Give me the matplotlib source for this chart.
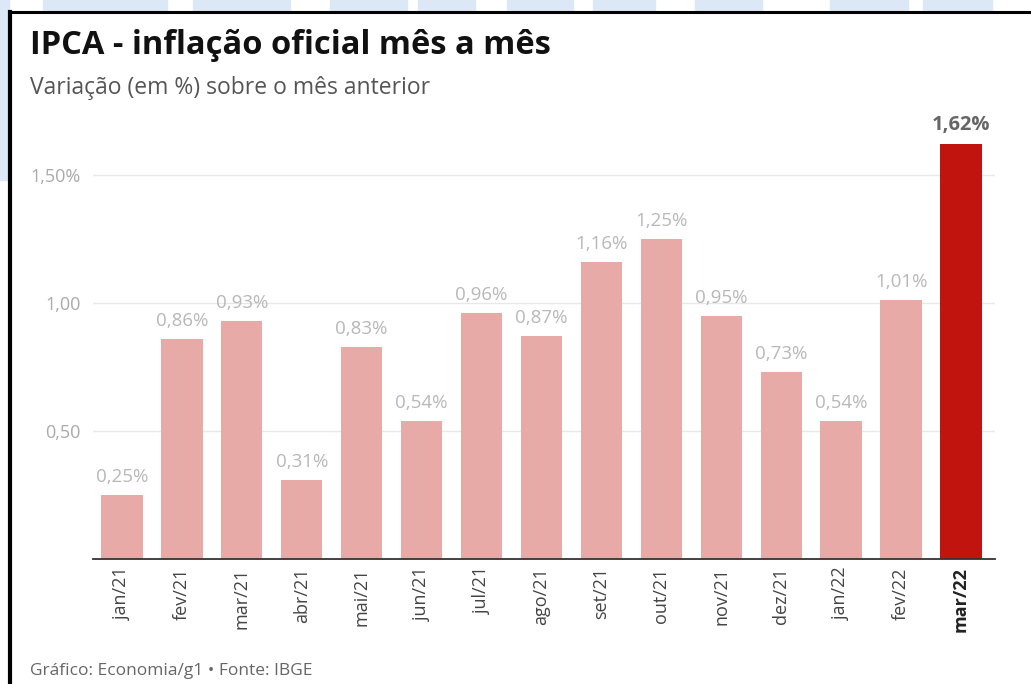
import matplotlib
matplotlib.use("Agg")
import matplotlib.pyplot as plt
from matplotlib.patches import Rectangle

meses = ["jan/21", "fev/21", "mar/21", "abr/21", "mai/21", "jun/21", "jul/21", "ago/21",
         "set/21", "out/21", "nov/21", "dez/21", "jan/22", "fev/22", "mar/22"]
ipca = [0.25, 0.86, 0.93, 0.31, 0.83, 0.54, 0.96, 0.87, 1.16, 1.25, 0.95, 0.73, 0.54, 1.01, 1.62]
yticks = [0.5, 1.0, 1.5]
ytick_labels = ["0,50", "1,00", "1,50%"]

W, H = 1031, 684
fig = plt.figure(figsize=(W / 100, H / 100), dpi=100)
fig.patch.set_facecolor("white")

# light blue watermark shapes behind the frame
azul = "#dce8f6"
for x0, x1 in [(43, 167), (193, 290), (330, 407), (418, 475), (507, 573),
               (593, 655), (695, 762), (830, 908), (923, 992)]:
    fig.patches.append(Rectangle((x0 / W, 1 - 12 / H), (x1 - x0) / W, 12 / H,
                                 transform=fig.transFigure, color=azul, zorder=0))
fig.patches.append(Rectangle((0, 1 - 180 / H), 9 / W, 180 / H,
                             transform=fig.transFigure, color=azul, zorder=0))

# black frame (top and left)
fig.add_artist(plt.Line2D([10 / W, 1], [1 - 12 / H, 1 - 12 / H], transform=fig.transFigure,
                          color="black", lw=2.2))
fig.add_artist(plt.Line2D([10 / W, 10 / W], [0, 1 - 12 / H], transform=fig.transFigure,
                          color="black", lw=3))

ax = fig.add_axes([93 / W, 1 - 559 / H, (995 - 93) / W, (559 - 119) / H])
x = list(range(len(meses)))
cores = ["#e8aaa7"] * (len(meses) - 1) + ["#c2140f"]
ax.bar(x, ipca, width=0.69, color=cores, zorder=2)

ax.set_ylim(0, (559 - 119) / 256)
ax.set_xlim(-0.483, 14.567)
ax.set_yticks(yticks)
ax.set_yticklabels(ytick_labels, color="#aaaaaa", fontsize=13, family="Open Sans")
ax.tick_params(axis="y", length=0, pad=9)
ax.grid(axis="y", color="#e8e8e8", lw=1, zorder=0)

ax.set_xticks(x)
ax.set_xticklabels(meses, rotation=90, fontsize=13, color="#444444",
                   family="Open Sans", va="top")
ax.tick_params(axis="x", length=0, pad=6)
ax.get_xticklabels()[-1].set_fontweight("bold")
ax.get_xticklabels()[-1].set_color("#222222")

for s in ["top", "right", "left"]:
    ax.spines[s].set_visible(False)
ax.spines["bottom"].set_color("#333333")
ax.spines["bottom"].set_linewidth(1.3)

for i, v in enumerate(ipca):
    txt = f"{v:.2f}%".replace(".", ",")
    if i == len(ipca) - 1:
        ax.text(i, v + 0.035, txt, ha="center", va="bottom", fontsize=14.5,
                fontweight="bold", color="#666666", family="Open Sans")
    else:
        ax.text(i, v + 0.035, txt, ha="center", va="bottom", fontsize=13.5,
                color="#b8b8b8", family="Open Sans")

fig.text(30 / W, 1 - 45 / H, "IPCA - inflação oficial mês a mês", fontsize=23.5,
         fontweight="bold", family="Open Sans", color="#111111", va="center")
fig.text(30 / W, 1 - 88 / H, "Variação (em %) sobre o mês anterior", fontsize=16.5,
         family="Open Sans", color="#555555", va="center")
fig.text(30 / W, 1 - 671 / H, "Gráfico: Economia/g1 • Fonte: IBGE", fontsize=12.5,
         family="Open Sans", color="#666666", va="center")

fig.savefig("out.png", dpi=100)
